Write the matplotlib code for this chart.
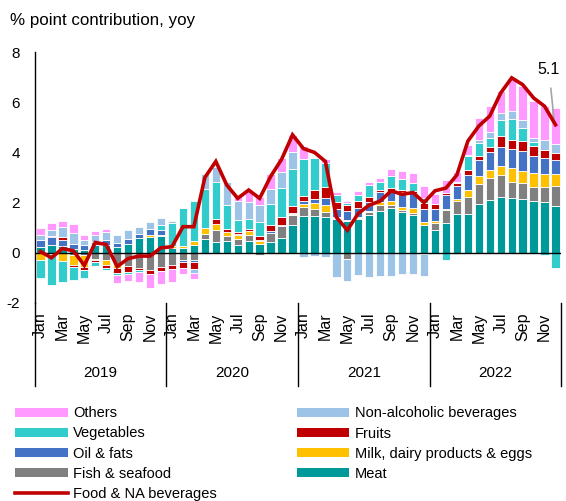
import numpy as np
import matplotlib
matplotlib.use('Agg')
import matplotlib.pyplot as plt
from matplotlib.patches import Patch
from matplotlib.lines import Line2D
import matplotlib.transforms as mtransforms

plt.rcParams['font.family'] = ['Liberation Sans', 'DejaVu Sans']

years = ['2019', '2020', '2021', '2022']
months = ['Jan', 'Feb', 'Mar', 'Apr', 'May', 'Jun', 'Jul', 'Aug', 'Sep', 'Oct', 'Nov', 'Dec']

# % point contributions, Jan 2019 .. Dec 2022
meat = [0.25, 0.33, 0.27, 0.17, 0.10, 0.30, 0.30, 0.25, 0.37, 0.57, 0.64, 0.67,
        0.20, 0.18, 0.30, 0.53, 0.44, 0.47, 0.33, 0.48, 0.35, 0.44, 0.60, 1.10,
        1.47, 1.47, 1.41, 1.33, 1.28, 1.33, 1.50, 1.68, 1.80, 1.64, 1.50, 1.10,
        0.90, 1.20, 1.53, 1.55, 1.95, 2.10, 2.24, 2.17, 2.13, 2.08, 2.04, 1.88]
fish = [0.00, 0.00, 0.00, -0.10, -0.10, -0.23, -0.30, -0.45, -0.53, -0.60, -0.70, -0.58,
        -0.50, -0.28, -0.30, 0.21, 0.47, 0.20, 0.20, 0.23, -0.09, 0.33, 0.47, 0.40,
        0.35, 0.28, 0.23, 0.05, -0.23, 0.05, 0.13, 0.23, 0.10, 0.05, 0.10, -0.05,
        0.30, 0.50, 0.55, 0.67, 0.80, 0.87, 0.87, 0.67, 0.67, 0.56, 0.60, 0.79]
milk = [-0.30, -0.05, -0.33, -0.40, -0.45, -0.05, -0.20, -0.15, 0.00, 0.00, 0.07, 0.05,
        0.08, 0.08, 0.16, 0.23, 0.23, 0.17, 0.17, 0.16, 0.12, 0.03, -0.05, 0.03,
        0.13, 0.25, 0.27, 0.05, 0.03, 0.05, 0.05, 0.10, 0.17, 0.13, 0.17, 0.13,
        0.05, 0.03, 0.07, 0.29, 0.29, 0.33, 0.36, 0.53, 0.47, 0.53, 0.51, 0.47]
oil = [0.25, 0.28, 0.24, 0.20, 0.20, 0.15, 0.20, 0.13, 0.16, 0.17, 0.23, 0.20,
       0.00, -0.08, -0.06, 0.00, 0.00, 0.00, 0.05, 0.00, 0.04, 0.06, 0.04, 0.05,
       0.10, 0.15, 0.27, 0.32, 0.36, 0.35, 0.36, 0.40, 0.36, 0.60, 0.60, 0.50,
       0.48, 0.57, 0.53, 0.60, 0.64, 0.73, 0.75, 0.76, 0.77, 0.69, 0.63, 0.55]
fruits = [0.00, 0.05, 0.10, -0.05, -0.15, -0.10, -0.10, -0.20, -0.23, -0.07, -0.16, -0.13,
          -0.15, -0.24, -0.30, -0.05, 0.20, 0.10, 0.07, 0.08, 0.17, 0.24, 0.30, 0.28,
          0.20, 0.36, 0.44, 0.27, 0.23, 0.27, 0.20, 0.10, 0.15, 0.10, 0.10, 0.25,
          0.20, 0.10, 0.10, 0.20, 0.16, 0.17, 0.43, 0.37, 0.40, 0.40, 0.33, 0.27]
veg = [-0.70, -1.25, -0.83, -0.55, -0.30, -0.15, -0.10, -0.07, -0.10, -0.10, 0.00, 0.20,
       0.90, 1.53, 1.60, 1.57, 1.47, 0.96, 0.47, 0.39, 0.56, 0.83, 1.16, 1.49,
       1.47, 1.27, 0.96, 0.30, 0.08, 0.27, 0.48, 0.33, 0.47, 0.43, 0.30, 0.20,
       0.00, -0.27, -0.05, 0.53, 0.53, 0.39, 0.64, 0.84, 0.53, 0.17, -0.10, -0.60]
nab = [0.20, 0.23, 0.43, 0.40, 0.20, 0.27, 0.33, 0.33, 0.37, 0.30, 0.28, 0.25,
       0.10, 0.00, -0.15, 0.60, 0.60, 0.93, 0.76, 0.70, 0.67, 0.63, 0.63, 0.67,
       -0.16, -0.13, -0.15, -0.96, -0.90, -0.90, -0.98, -0.93, -0.93, -0.85, -0.83, -0.87,
       0.00, 0.00, 0.05, 0.05, 0.13, 0.24, 0.27, 0.32, 0.33, 0.13, 0.40, 0.36]
others = [0.30, 0.30, 0.24, 0.37, 0.20, 0.13, 0.10, -0.35, -0.27, -0.40, -0.53, -0.53,
          -0.50, -0.23, -0.23, -0.05, 0.00, 0.00, 0.27, 0.47, 0.33, 0.57, 0.57, 0.67,
          0.53, 0.00, 0.16, 0.10, 0.10, 0.13, 0.12, 0.16, 0.30, 0.30, 0.40, 0.49,
          0.43, 0.49, 0.40, 0.40, 0.87, 1.00, 0.90, 1.30, 1.33, 1.47, 1.33, 1.43]
food_total = [0.05, -0.20, 0.17, 0.08, -0.50, 0.41, 0.33, -0.55, -0.23, -0.13, -0.13, 0.20,
              0.24, 1.04, 1.04, 3.00, 3.64, 2.70, 2.17, 2.50, 2.17, 3.04, 3.72, 4.70,
              4.15, 4.00, 3.64, 1.42, 0.90, 1.57, 1.90, 2.06, 2.47, 2.33, 2.40, 2.00,
              2.47, 2.58, 3.10, 4.45, 5.05, 5.45, 6.37, 6.97, 6.70, 6.17, 5.84, 5.10]

series = [
    ('Meat', meat, '#009999'),
    ('Fish & seafood', fish, '#808080'),
    ('Milk, dairy products & eggs', milk, '#FFC000'),
    ('Oil & fats', oil, '#4472C4'),
    ('Fruits', fruits, '#C00000'),
    ('Vegetables', veg, '#33CCCC'),
    ('Non-alcoholic beverages', nab, '#9DC3E6'),
    ('Others', others, '#FF99FF'),
]
line_color = '#C00000'

fig = plt.figure(figsize=(5.66, 5.01), dpi=100)
ax = fig.add_axes([35 / 566, 198 / 501, 526 / 566, 251 / 501])

x = np.arange(len(meat))
pos_base = np.zeros(len(x))
neg_base = np.zeros(len(x))
for name, vals, col in series:
    v = np.array(vals)
    base = np.where(v >= 0, pos_base, neg_base)
    ax.bar(x, v, bottom=base, width=0.76, color=col, edgecolor='white',
           linewidth=0.6, zorder=2)
    pos_base = pos_base + np.where(v >= 0, v, 0)
    neg_base = neg_base + np.where(v < 0, v, 0)

ax.plot(x, food_total, color=line_color, lw=2.6, zorder=4, solid_joinstyle='miter')
ax.axhline(0, color='black', lw=1, zorder=3)

ax.annotate('5.1', xy=(x[-1] - 0.1, food_total[-1] + 0.05), xytext=(46.4, 7.3),
            fontsize=11.5, ha='center', va='center',
            arrowprops=dict(arrowstyle='-', color='#A6A6A6', lw=1.2,
                            shrinkA=6, shrinkB=0))

ax.set_xlim(-0.5, len(x) - 0.5)
ax.set_ylim(-2, 8)
ax.set_yticks([-2, 0, 2, 4, 6, 8])
ax.set_yticklabels(['-2', '0', '2', '4', '6', '8'])
ax.tick_params(axis='y', length=0, pad=11, labelsize=11)

tick_pos = [i for i in x if i % 2 == 0]
ax.set_xticks(tick_pos)
ax.set_xticklabels([months[i % 12] for i in tick_pos], rotation=90, va='top')
ax.tick_params(axis='x', length=0, pad=7, labelsize=11.5)

for s in ['top', 'right', 'bottom']:
    ax.spines[s].set_visible(False)
ax.spines['left'].set_color('black')
ax.spines['left'].set_linewidth(1)

trans = mtransforms.blended_transform_factory(ax.transData, ax.transAxes)
for k in range(len(years) + 1):
    xs = -0.5 + 12 * k
    ax.plot([xs, xs], [0, -0.33], transform=trans, color='black', lw=1,
            clip_on=False)
for k, yr in enumerate(years):
    ax.text(5.5 + 12 * k, -0.277, yr, transform=trans, ha='center',
            va='center', fontsize=11)

fig.text(10 / 566, 1 - 20 / 501, '% point contribution, yoy', fontsize=12.2,
         ha='left', va='center')

lookup = {n: c for n, v, c in series}
col1 = ['Others', 'Vegetables', 'Oil & fats', 'Fish & seafood']
col2 = ['Non-alcoholic beverages', 'Fruits', 'Milk, dairy products & eggs', 'Meat']
handles = [Patch(facecolor=lookup[n], edgecolor='none') for n in col1]
handles.append(Line2D([0], [0], color=line_color, lw=2.6))
labels = col1 + ['Food & NA beverages']
handles += [Patch(facecolor=lookup[n], edgecolor='none') for n in col2]
labels += col2
fig.legend(handles, labels, ncol=2, loc='upper left',
           bbox_to_anchor=(11 / 566, 1 - 402 / 501), frameon=False,
           fontsize=10.5, handlelength=3.6, handleheight=0.6,
           labelspacing=0.42, columnspacing=5.5, handletextpad=0.35,
           borderaxespad=0, borderpad=0.3)

fig.savefig('out.png', dpi=100)
